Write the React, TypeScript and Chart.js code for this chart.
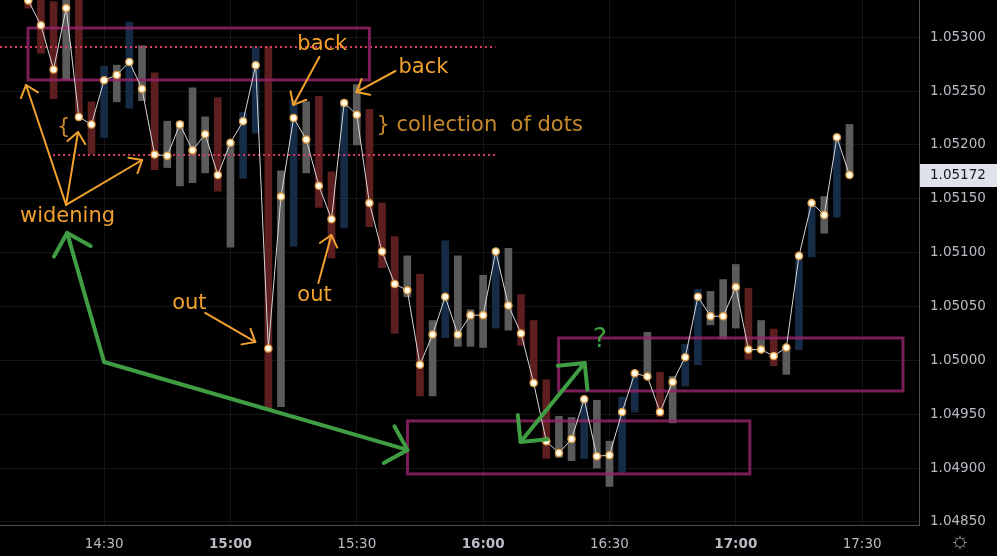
import React, { useEffect, useRef } from "react";
import { Chart, registerables } from "chart.js";

Chart.register(...registerables);

// ---- data (3-minute bars) ----
const barTimes = [
  "14:12", "14:15", "14:18", "14:21", "14:24", "14:27",
  "14:30", "14:33", "14:36", "14:39", "14:42", "14:45", "14:48", "14:51", "14:54", "14:57",
  "15:00", "15:03", "15:06", "15:09", "15:12", "15:15", "15:18", "15:21", "15:24", "15:27",
  "15:30", "15:33", "15:36", "15:39", "15:42", "15:45", "15:48", "15:51", "15:54", "15:57",
  "16:00", "16:03", "16:06", "16:09", "16:12", "16:15", "16:18", "16:21", "16:24", "16:27",
  "16:30", "16:33", "16:36", "16:39", "16:42", "16:45", "16:48", "16:51", "16:54", "16:57",
  "17:00", "17:03", "17:06", "17:09", "17:12", "17:15", "17:18", "17:21", "17:24", "17:27",
];

const barHigh = [
  1.05344, 1.05344, 1.05333, 1.05344, 1.05344, 1.0524,
  1.05273, 1.05274, 1.05314, 1.05292, 1.05267, 1.05222, 1.05222, 1.05253, 1.05226, 1.05244,
  1.05202, 1.0523, 1.05291, 1.05291, 1.05176, 1.05242, 1.0524, 1.05245, 1.05175, 1.05242,
  1.05256, 1.05233, 1.05146, 1.05115, 1.05097, 1.0508, 1.05037, 1.05111, 1.05097, 1.05047,
  1.05079, 1.05104, 1.05104, 1.05061, 1.05037, 1.04982, 1.04948, 1.04947, 1.04965, 1.04963,
  1.04925, 1.04966, 1.04988, 1.05026, 1.04989, 1.04985, 1.05015, 1.05066, 1.05064, 1.05075,
  1.05089, 1.05067, 1.05037, 1.05029, 1.05012, 1.05096, 1.05144, 1.05152, 1.05207, 1.05219,
];

const barLow = [
  1.05327, 1.05285, 1.05243, 1.0526, 1.05227, 1.05192,
  1.05207, 1.0524, 1.05234, 1.05241, 1.05177, 1.05179, 1.05162, 1.05165, 1.05174, 1.05157,
  1.05105, 1.05169, 1.05211, 1.04955, 1.04957, 1.05106, 1.05174, 1.05142, 1.05095, 1.05123,
  1.052, 1.05124, 1.05086, 1.05025, 1.05059, 1.04967, 1.04967, 1.05021, 1.05013, 1.05013,
  1.05012, 1.0503, 1.05028, 1.05014, 1.04979, 1.04909, 1.0491, 1.04907, 1.04909, 1.049,
  1.04883, 1.04896, 1.04952, 1.04984, 1.04948, 1.04942, 1.04976, 1.04996, 1.05033, 1.0502,
  1.0503, 1.05001, 1.0501, 1.04995, 1.04987, 1.0501, 1.05096, 1.05118, 1.05133, 1.05171,
];

// d = down (red), u = up (blue), n = neutral (grey)
const barKind = [
  "d", "d", "d", "n", "d", "d",
  "u", "n", "u", "n", "d", "n", "n", "n", "n", "d",
  "n", "u", "u", "d", "n", "u", "n", "d", "d", "u",
  "n", "d", "d", "d", "n", "d", "n", "u", "n", "n",
  "n", "u", "n", "d", "d", "d", "n", "n", "u", "n",
  "n", "u", "u", "n", "d", "n", "u", "u", "n", "n",
  "n", "d", "n", "d", "n", "u", "u", "n", "u", "n",
];

const dotValues = [
  1.05334, 1.05311, 1.0527, 1.05327, 1.05226, 1.05219,
  1.0526, 1.05265, 1.05277, 1.05252, 1.05191, 1.0519, 1.05219, 1.05195, 1.0521, 1.05172,
  1.05202, 1.05222, 1.05274, 1.05011, 1.05152, 1.05225, 1.05205, 1.05162, 1.05131, 1.05239,
  1.05228, 1.05146, 1.05101, 1.05071, 1.05065, 1.04996, 1.05024, 1.05059, 1.05024, 1.05042,
  1.05042, 1.05101, 1.05051, 1.05025, 1.04979, 1.04925, 1.04914, 1.04927, 1.04964, 1.04911,
  1.04912, 1.04952, 1.04988, 1.04985, 1.04952, 1.0498, 1.05003, 1.05059, 1.05041, 1.05041,
  1.05068, 1.0501, 1.0501, 1.05004, 1.05012, 1.05097, 1.05146, 1.05135, 1.05207, 1.05172,
];

const priceTicks = [1.053, 1.0525, 1.052, 1.0515, 1.051, 1.0505, 1.05, 1.0495, 1.049, 1.0485];
const timeTicks = ["14:30", "15:00", "15:30", "16:00", "16:30", "17:00", "17:30"];
const lastPrice = 1.05172;
const viewTime = [845.28, 1063.5]; // minutes of day
const viewPrice = [1.048472, 1.053345];

// ---- drawings (time in minutes, price) ----
const boxes = [
  { t1: 851.94, t2: 933.0, p1: 1.053085, p2: 1.052603 },
  { t1: 942.03, t2: 1023.33, p1: 1.049438, p2: 1.048946 },
  { t1: 977.93, t2: 1059.7, p1: 1.050208, p2: 1.049716 },
];
const dottedLevels = [
  { t1: 845.28, t2: 962.95, p: 1.052912 },
  { t1: 857.88, t2: 962.95, p: 1.051907 },
];
const orangeArrows = [
  [860.97, 1.051443, 851.46, 1.052556],
  [860.97, 1.051443, 863.82, 1.05212],
  [860.97, 1.051443, 879.04, 1.05186],
  [921.11, 1.052816, 914.93, 1.052371],
  [939.18, 1.052686, 929.91, 1.052491],
  [894.01, 1.05044, 905.9, 1.050171],
  [920.87, 1.050719, 923.97, 1.051164],
];
const greenCorner = [870.0, 1.049985];
const greenTips = [
  [861.21, 1.051183],
  [942.03, 1.049169],
];
const greenDouble = [968.89, 1.049243, 984.11, 1.049976];
const notes = [
  { text: "back", t: 915.88, p: 1.052881, muted: false },
  { text: "back", t: 939.89, p: 1.052668, muted: false },
  { text: "widening", t: 850.03, p: 1.051285, muted: false },
  { text: "out", t: 886.17, p: 1.050477, muted: false },
  { text: "out", t: 915.88, p: 1.050552, muted: false },
  { text: "} collection  of dots", t: 934.66, p: 1.052129, muted: true },
  { text: "{", t: 858.83, p: 1.052111, muted: true },
];
const questionNote = { text: "?", t: 986.01, p: 1.050125 };

// ---- helpers ----
const toMin = (s: string) => {
  const [h, m] = s.split(":").map(Number);
  return h * 60 + m;
};
const fmtMin = (v: number) => {
  const h = Math.floor(v / 60);
  const m = Math.round(v - h * 60);
  return `${h}:${String(m).padStart(2, "0")}`;
};

const KIND_COLOR: Record<string, string> = {
  d: "#5c1e1f",
  u: "#162b46",
  n: "#5b5b5b",
};

const ORANGE = "#f0a12e";
const ORANGE_MUTED = "#c98a2c";
const GREEN = "#3f9d43";
const AXIS_TEXT = "#b9bcc4";

function head(ctx: CanvasRenderingContext2D, fx: number, fy: number, tx: number, ty: number, len: number, ang: number) {
  const a = Math.atan2(fy - ty, fx - tx);
  const r = (ang * Math.PI) / 180;
  ctx.beginPath();
  ctx.moveTo(tx + len * Math.cos(a + r), ty + len * Math.sin(a + r));
  ctx.lineTo(tx, ty);
  ctx.lineTo(tx + len * Math.cos(a - r), ty + len * Math.sin(a - r));
  ctx.stroke();
}

const drawings = {
  id: "drawings",
  afterDatasetDraw(chart: any, args: any) {
    if (args.index !== 0) return;
    const { ctx, chartArea, scales } = chart;
    const x = scales.x;
    const y = scales.y;
    ctx.save();
    ctx.beginPath();
    ctx.rect(chartArea.left, chartArea.top, chartArea.right - chartArea.left, chartArea.bottom - chartArea.top);
    ctx.clip();
    ctx.strokeStyle = "#d83d5f";
    ctx.lineWidth = 2;
    ctx.setLineDash([2, 3]);
    for (const d of dottedLevels) {
      const py = Math.round(y.getPixelForValue(d.p));
      ctx.beginPath();
      ctx.moveTo(x.getPixelForValue(d.t1), py);
      ctx.lineTo(x.getPixelForValue(d.t2), py);
      ctx.stroke();
    }
    ctx.setLineDash([]);
    ctx.strokeStyle = "rgba(150,35,105,0.82)";
    ctx.lineWidth = 3;
    for (const b of boxes) {
      const x1 = x.getPixelForValue(b.t1);
      const x2 = x.getPixelForValue(b.t2);
      const y1 = y.getPixelForValue(b.p1);
      const y2 = y.getPixelForValue(b.p2);
      ctx.strokeRect(x1, y1, x2 - x1, y2 - y1);
    }
    ctx.restore();
  },
  afterDatasetsDraw(chart: any) {
    const { ctx, scales } = chart;
    const x = scales.x;
    const y = scales.y;
    const P = (t: number, p: number) => [x.getPixelForValue(t), y.getPixelForValue(p)];
    ctx.save();
    ctx.lineCap = "round";
    ctx.lineJoin = "round";
    ctx.strokeStyle = ORANGE;
    ctx.lineWidth = 2;
    for (const a of orangeArrows) {
      const [x1, y1] = P(a[0], a[1]);
      const [x2, y2] = P(a[2], a[3]);
      ctx.beginPath();
      ctx.moveTo(x1, y1);
      ctx.lineTo(x2, y2);
      ctx.stroke();
      head(ctx, x1, y1, x2, y2, 14, 40);
    }
    ctx.strokeStyle = GREEN;
    ctx.lineWidth = 4;
    const [cx, cy] = P(greenCorner[0], greenCorner[1]);
    for (const tp of greenTips) {
      const [tx, ty] = P(tp[0], tp[1]);
      ctx.beginPath();
      ctx.moveTo(cx, cy);
      ctx.lineTo(tx, ty);
      ctx.stroke();
      head(ctx, cx, cy, tx, ty, 27, 45);
    }
    {
      const [ax, ay] = P(greenDouble[0], greenDouble[1]);
      const [bx, by] = P(greenDouble[2], greenDouble[3]);
      ctx.beginPath();
      ctx.moveTo(ax, ay);
      ctx.lineTo(bx, by);
      ctx.stroke();
      head(ctx, bx, by, ax, ay, 27, 45);
      head(ctx, ax, ay, bx, by, 27, 45);
    }
    ctx.font = '21px "DejaVu Sans"';
    ctx.textAlign = "left";
    ctx.textBaseline = "alphabetic";
    for (const n of notes) {
      const [tx, ty] = P(n.t, n.p);
      ctx.fillStyle = n.muted ? ORANGE_MUTED : ORANGE;
      ctx.fillText(n.text, tx, ty);
    }
    ctx.font = '27px "DejaVu Sans"';
    ctx.fillStyle = GREEN;
    {
      const [tx, ty] = P(questionNote.t, questionNote.p);
      ctx.fillText(questionNote.text, tx, ty);
    }
    ctx.restore();
  },
  afterDraw(chart: any) {
    const { ctx, chartArea, scales } = chart;
    const y = scales.y;
    const py = y.getPixelForValue(lastPrice);
    ctx.save();
    ctx.fillStyle = "#dfe2e8";
    ctx.fillRect(chartArea.right + 1, Math.round(py) - 11, chart.width - chartArea.right - 1, 23);
    ctx.fillStyle = "#131722";
    ctx.font = '13.5px "DejaVu Sans"';
    ctx.textBaseline = "middle";
    ctx.textAlign = "left";
    ctx.fillText(lastPrice.toFixed(5), chartArea.right + 11, Math.round(py) + 0.5);
    const ix = (chartArea.right + chart.width) / 2 + 2;
    const iy = (chartArea.bottom + chart.height) / 2 + 2;
    ctx.strokeStyle = "#8a8d94";
    ctx.lineWidth = 1;
    ctx.beginPath();
    ctx.arc(ix, iy, 4.5, 0, Math.PI * 2);
    ctx.stroke();
    for (let i = 0; i < 8; i++) {
      const a = (i * Math.PI) / 4;
      ctx.beginPath();
      ctx.moveTo(ix + 4.5 * Math.cos(a), iy + 4.5 * Math.sin(a));
      ctx.lineTo(ix + 7 * Math.cos(a), iy + 7 * Math.sin(a));
      ctx.stroke();
    }
    ctx.restore();
  },
};

export default function App() {
  const ref = useRef<HTMLCanvasElement | null>(null);

  useEffect(() => {
    document.body.style.margin = "0";
    document.body.style.background = "#000";
    const canvas = ref.current;
    if (!canvas) return;
    const xs = barTimes.map(toMin);
    const chart = new Chart(canvas, {
      type: "bar",
      data: {
        datasets: [
          {
            type: "bar",
            data: xs.map((t, i) => ({ x: t, y: [barLow[i], barHigh[i]] })) as any,
            backgroundColor: barKind.map((k) => KIND_COLOR[k]),
            borderWidth: 0,
            barThickness: 7,
            order: 1,
          } as any,
          {
            type: "line",
            data: xs.map((t, i) => ({ x: t, y: dotValues[i] })) as any,
            borderColor: "#d6d6d6",
            borderWidth: 1,
            pointRadius: 3.6,
            pointBorderWidth: 1.3,
            pointBackgroundColor: "#fff9e6",
            pointBorderColor: "#dc9a40",
            tension: 0,
            order: 0,
          } as any,
        ],
      },
      options: {
        responsive: false,
        devicePixelRatio: 1,
        animation: false,
        layout: { padding: 0, autoPadding: false },
        plugins: { legend: { display: false }, tooltip: { enabled: false } },
        scales: {
          x: {
            type: "linear",
            position: "bottom",
            min: viewTime[0],
            max: viewTime[1],
            offset: false,
            afterFit: (s: any) => {
              s.height = 31;
              s.paddingLeft = 0;
              s.paddingRight = 0;
            },
            afterBuildTicks: (s: any) => {
              s.ticks = timeTicks.map((t) => ({ value: toMin(t) }));
            },
            grid: { color: "#151515", drawTicks: false, offset: false },
            border: { color: "#4e4e4e" },
            ticks: {
              color: AXIS_TEXT,
              padding: 11,
              maxRotation: 0,
              autoSkip: false,
              callback: (v: any) => fmtMin(Number(v)),
              font: (c: any) => ({
                family: "DejaVu Sans",
                size: 13.5,
                weight: c.tick && c.tick.value % 60 === 0 ? "bold" : "normal",
              }),
            },
          },
          y: {
            type: "linear",
            position: "right",
            min: viewPrice[0],
            max: viewPrice[1],
            afterFit: (s: any) => {
              s.width = 78;
              s.paddingTop = 0;
              s.paddingBottom = 0;
            },
            afterBuildTicks: (s: any) => {
              s.ticks = priceTicks.map((v) => ({ value: v }));
            },
            grid: { color: "#151515", drawTicks: false },
            border: { color: "#4e4e4e" },
            ticks: {
              color: AXIS_TEXT,
              padding: 11,
              font: { family: "DejaVu Sans", size: 13.5 },
              callback: (v: any) => Number(v).toFixed(5),
            },
          },
        },
      } as any,
      plugins: [drawings as any],
    });
    return () => chart.destroy();
  }, []);

  return (
    <div style={{ width: 997, height: 556, background: "#000" }}>
      <canvas ref={ref} width={997} height={556} style={{ display: "block" }} />
    </div>
  );
}
